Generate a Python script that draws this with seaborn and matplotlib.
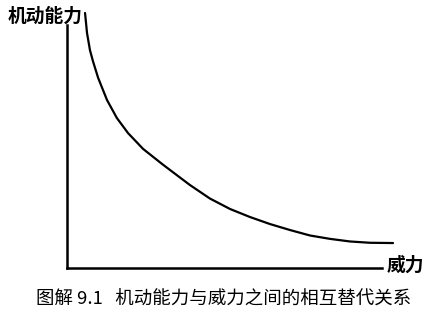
import matplotlib
matplotlib.use("Agg")
import matplotlib.pyplot as plt
import seaborn as sns
import pandas as pd

sns.set_theme(style="white")
plt.rcParams['font.family'] = ['Noto Sans CJK SC', 'DejaVu Sans']

# data (power vs mobility, arbitrary units 0-10)
power = [0.55, 0.61, 0.70, 0.79, 0.95, 1.22, 1.52, 1.86, 2.32, 2.90, 3.14,
         3.75, 4.36, 4.97, 5.58, 6.19, 6.80, 7.41, 8.02, 8.63, 9.24, 9.94]
mobility = [9.81, 9.04, 8.38, 7.96, 7.31, 6.46, 5.77, 5.19, 4.58, 4.00, 3.77,
            3.19, 2.67, 2.27, 1.96, 1.69, 1.46, 1.25, 1.12, 1.02, 0.97, 0.96]
y_label = "机动能力"
x_label = "威力"
caption = "图解 9.1   机动能力与威力之间的相互替代关系"

df = pd.DataFrame({"power": power, "mobility": mobility})

W, H = 430, 319
fig = plt.figure(figsize=(W / 100, H / 100), dpi=100)
ax = fig.add_axes([67 / W, (H - 268) / H, 328 / W, 260 / H])

sns.lineplot(data=df, x="power", y="mobility", ax=ax, color="black",
             linewidth=1.6, clip_on=False)

ax.set_xlim(0, 10)
ax.set_ylim(0, 10)
ax.set_xticks([])
ax.set_yticks([])
ax.set_xlabel("")
ax.set_ylabel("")
for s in ["top", "right"]:
    ax.spines[s].set_visible(False)
for s in ["left", "bottom"]:
    ax.spines[s].set_color("black")
    ax.spines[s].set_linewidth(1.8)
ax.spines["left"].set_bounds(0, 9.35)
ax.spines["bottom"].set_bounds(0, 9.6)

fig.text(8 / W, 1 - 16 / H, y_label, fontsize=13.5, fontweight="bold",
         ha="left", va="center", color="black")
fig.text(387 / W, 1 - 265 / H, x_label, fontsize=13.5, fontweight="bold",
         ha="left", va="center", color="black")
fig.text(224 / W, 1 - 300 / H, caption, fontsize=13.3,
         ha="center", va="center", color="black")

fig.savefig("out.png", dpi=100, facecolor="white")
